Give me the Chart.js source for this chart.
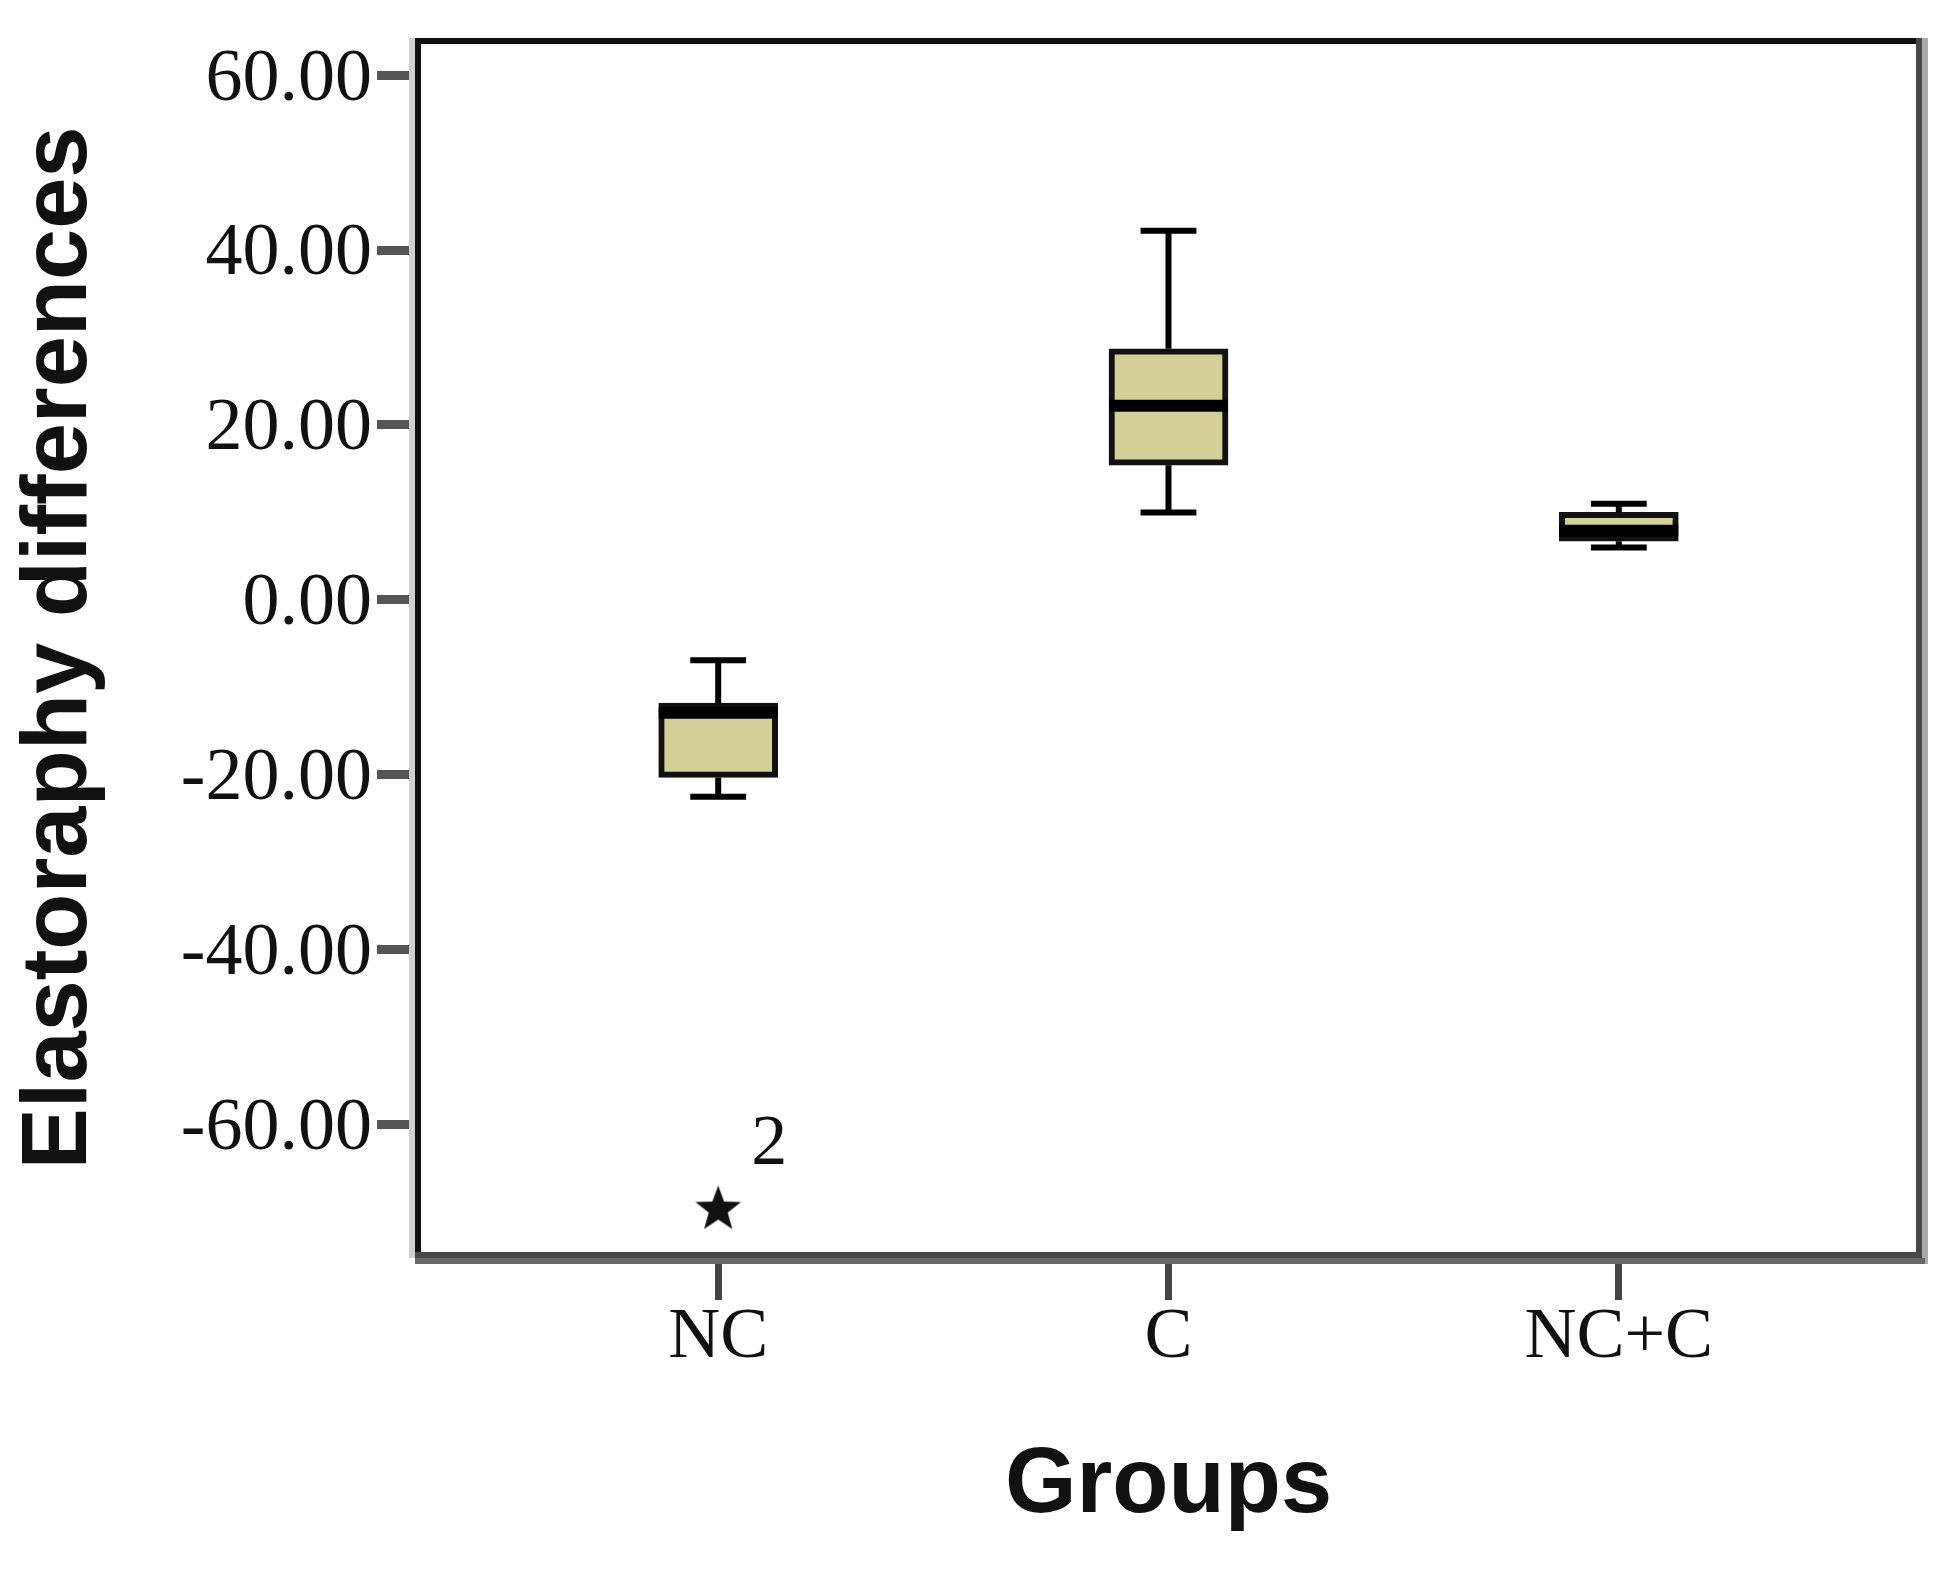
<!DOCTYPE html>
<html>
<head>
<meta charset="utf-8">
<title>Elastoraphy differences by group</title>
<script src="https://cdn.jsdelivr.net/npm/chart.js@4.4.1/dist/chart.umd.min.js"></script>
<style>
    html, body { margin: 0; padding: 0; background: #fff; }
    #wrap { width: 1945px; height: 1571px; position: relative; }
</style>
</head>
<body>
<div id="wrap"><canvas id="boxChart"></canvas></div>
<script>
// values
const categories = ['NC', 'C', 'NC+C'];
const whiskerLow = [-22.5, 10.0, 6.0];
const q1 = [-20.3, 15.4, 6.7];
const medians = [-12.9, 22.2, 7.9];
const q3 = [-11.8, 28.7, 10.0];
const whiskerHigh = [-6.9, 42.2, 11.0];
const outlierGroup = ['NC'];
const outlierValues = [-69.7];
const outlierLabels = ['2'];
const yTicks = [-60, -40, -20, 0, 20, 40, 60];

// half widths in x-axis units (style only)
const BOX_HALF = 0.132;
const CAP_HALF = 0.062;

const positions = categories.map((c, i) => i + 1);

const boxData = positions.map((x, i) => ({ x: x, y: [q1[i], q3[i]] }));

const medianData = [];
positions.forEach((x, i) => {
    medianData.push({ x: x - BOX_HALF, y: medians[i] }, { x: x + BOX_HALF, y: medians[i] }, { x: x, y: null });
});

const whiskerData = [];
positions.forEach((x, i) => {
    whiskerData.push(
        { x: x, y: whiskerLow[i] }, { x: x, y: q1[i] }, { x: x, y: null },
        { x: x, y: q3[i] }, { x: x, y: whiskerHigh[i] }, { x: x, y: null },
        { x: x - CAP_HALF, y: whiskerLow[i] }, { x: x + CAP_HALF, y: whiskerLow[i] }, { x: x, y: null },
        { x: x - CAP_HALF, y: whiskerHigh[i] }, { x: x + CAP_HALF, y: whiskerHigh[i] }, { x: x, y: null }
    );
});

const outlierData = outlierValues.map((v, i) => ({ x: categories.indexOf(outlierGroup[i]) + 1, y: v }));

// filled five point star used for the extreme value
function makeStar(size, outer, inner) {
    const c = document.createElement('canvas');
    c.width = size; c.height = size;
    const g = c.getContext('2d');
    g.fillStyle = '#111';
    g.beginPath();
    for (let k = 0; k < 10; k++) {
        const r = k % 2 === 0 ? outer : inner;
        const a = -Math.PI / 2 + k * Math.PI / 5;
        const px = size / 2 + r * Math.cos(a);
        const py = size / 2 + r * Math.sin(a);
        if (k === 0) g.moveTo(px, py); else g.lineTo(px, py);
    }
    g.closePath();
    g.fill();
    return c;
}
const starImg = makeStar(56, 24, 10);

const framePlugin = {
    id: 'frame',
    afterDraw(chart) {
        const { ctx, chartArea: a } = chart;
        ctx.save();
        ctx.lineCap = 'square';
        // soft shadows
        ctx.lineWidth = 6;
        ctx.strokeStyle = '#d0d0d0';
        ctx.beginPath(); ctx.moveTo(a.left - 6, a.top); ctx.lineTo(a.left - 6, a.bottom); ctx.stroke();
        ctx.strokeStyle = '#aaaaaa';
        ctx.beginPath(); ctx.moveTo(a.right + 6, a.top); ctx.lineTo(a.right + 6, a.bottom + 6); ctx.stroke();
        ctx.strokeStyle = '#666666';
        ctx.beginPath(); ctx.moveTo(a.left, a.bottom + 6); ctx.lineTo(a.right + 3, a.bottom + 6); ctx.stroke();
        // frame
        ctx.strokeStyle = '#111';
        ctx.beginPath(); ctx.moveTo(a.left, a.bottom); ctx.lineTo(a.left, a.top); ctx.lineTo(a.right, a.top); ctx.stroke();
        ctx.strokeStyle = '#474747';
        ctx.beginPath(); ctx.moveTo(a.right, a.top); ctx.lineTo(a.right, a.bottom); ctx.lineTo(a.left, a.bottom); ctx.stroke();
        ctx.restore();
    }
};

const outlierLabelPlugin = {
    id: 'outlierLabels',
    afterDatasetsDraw(chart) {
        const meta = chart.getDatasetMeta(3);
        const ctx = chart.ctx;
        ctx.save();
        ctx.fillStyle = '#111';
        ctx.font = '72px "Liberation Serif"';
        ctx.textAlign = 'center';
        ctx.textBaseline = 'middle';
        meta.data.forEach((el, i) => {
            ctx.fillText(outlierLabels[i], el.x + 51, el.y - 64);
        });
        ctx.restore();
    }
};

new Chart(document.getElementById('boxChart'), {
    type: 'bar',
    data: {
        datasets: [
            {
                type: 'line',
                data: medianData,
                borderColor: '#000',
                borderWidth: 12,
                borderCapStyle: 'butt',
                pointRadius: 0,
                spanGaps: false,
                order: 0
            },
            {
                type: 'line',
                data: whiskerData,
                borderColor: '#000',
                borderWidth: 6,
                borderCapStyle: 'butt',
                pointRadius: 0,
                spanGaps: false,
                order: 1
            },
            {
                type: 'bar',
                data: boxData,
                backgroundColor: '#d3cf97',
                borderColor: '#111',
                borderWidth: 6,
                borderSkipped: false,
                barThickness: 119,
                order: 2
            },
            {
                type: 'line',
                data: outlierData,
                showLine: false,
                pointStyle: starImg,
                pointRadius: 20,
                order: 0
            }
        ]
    },
    options: {
        responsive: true,
        maintainAspectRatio: false,
        animation: false,
        layout: { padding: { top: 41, right: 26, left: 0, bottom: 0 } },
        plugins: { legend: { display: false }, tooltip: { enabled: false } },
        scales: {
            x: {
                type: 'linear',
                min: 1 / 3,
                max: 11 / 3,
                offset: false,
                afterFit: (scale) => {
                    scale.height = 316;
                    scale.paddingLeft = 0;
                    scale.paddingRight = 0;
                },
                afterBuildTicks: (scale) => { scale.ticks = positions.map(v => ({ value: v })); },
                border: { display: false },
                grid: {
                    offset: false,
                    drawOnChartArea: false,
                    drawTicks: true,
                    tickLength: 45,
                    tickWidth: 7,
                    tickColor: '#444'
                },
                ticks: {
                    color: '#111',
                    padding: -5,
                    maxRotation: 0,
                    autoSkip: false,
                    font: { family: '"Liberation Serif"', size: 72 },
                    callback: (v) => categories[v - 1]
                },
                title: {
                    display: true,
                    text: 'Groups',
                    color: '#111',
                    padding: { top: 0, bottom: 29 },
                    font: { family: '"Liberation Sans"', size: 92, weight: 'bold', lineHeight: 1.2 }
                }
            },
            y: {
                type: 'linear',
                min: -74.9,
                max: 63.9,
                afterFit: (scale) => {
                    scale.width = 418;
                    scale.paddingTop = 0;
                    scale.paddingBottom = 0;
                },
                afterBuildTicks: (scale) => { scale.ticks = yTicks.map(v => ({ value: v })); },
                border: { display: false },
                grid: {
                    drawOnChartArea: false,
                    drawTicks: true,
                    tickLength: 41,
                    tickWidth: 9,
                    tickColor: '#555'
                },
                ticks: {
                    color: '#111',
                    padding: 5,
                    labelOffset: 5,
                    font: { family: '"Liberation Serif"', size: 74 },
                    callback: (v) => v.toFixed(2)
                },
                title: {
                    display: true,
                    text: 'Elastoraphy differences',
                    color: '#111',
                    padding: { top: 5, bottom: 0 },
                    font: { family: '"Liberation Sans"', size: 92, weight: 'bold', lineHeight: 1.2 }
                }
            }
        }
    },
    plugins: [framePlugin, outlierLabelPlugin]
});
</script>
</body>
</html>
